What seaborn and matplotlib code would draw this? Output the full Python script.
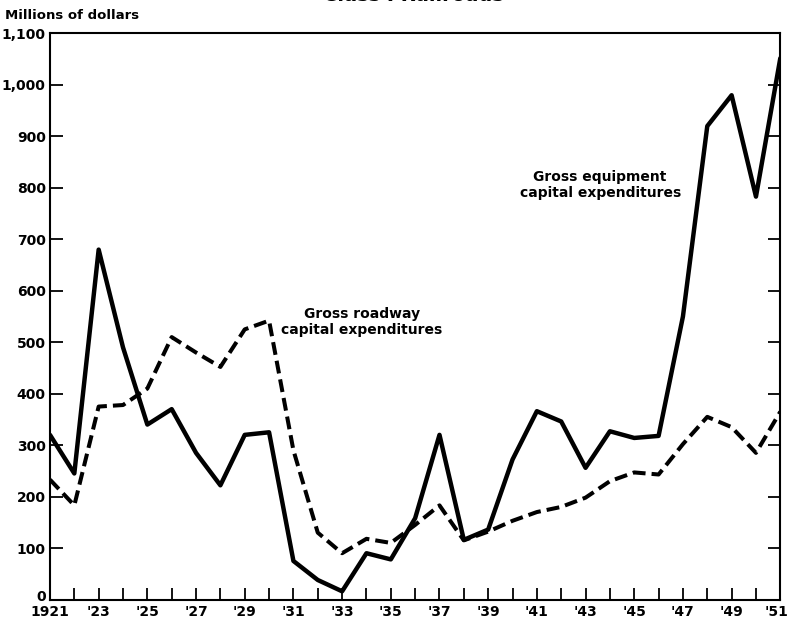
import pandas as pd
import seaborn as sns
import matplotlib.pyplot as plt
import matplotlib.transforms as mtransforms

# values (millions of dollars)
years = list(range(1921, 1952))
equipment = [320, 245, 680, 490, 340, 370, 285, 222, 320, 325,
             75, 38, 16, 90, 78, 158, 320, 116, 136, 272,
             366, 346, 256, 327, 314, 318, 550, 920, 980, 783, 1052]
roadway = [233, 183, 375, 378, 410, 510, 480, 452, 525, 542,
           290, 130, 90, 118, 110, 145, 183, 115, 132, 153,
           170, 180, 198, 230, 247, 243, 302, 355, 335, 285, 365]

y_ticks = list(range(0, 1101, 100))
y_labels = [f"{v:,}" for v in y_ticks]
x_ticks = list(range(1921, 1952, 2))
x_labels = ["1921"] + [f"'{str(y)[2:]}" for y in x_ticks[1:]]

df = pd.DataFrame({'year': years, 'equipment': equipment, 'roadway': roadway})

sns.set_style('ticks')
plt.rcParams['font.family'] = ['DejaVu Sans']
plt.rcParams['text.color'] = 'black'
plt.rcParams['xtick.color'] = 'black'
plt.rcParams['ytick.color'] = 'black'

fig = plt.figure(figsize=(7.87, 6.20), dpi=100)
ax = fig.add_axes([0.0635, 0.033, 0.928, 0.913])

sns.lineplot(data=df, x='year', y='equipment', color='black', linewidth=3.2, ax=ax)
sns.lineplot(data=df, x='year', y='roadway', color='black', linewidth=2.9,
             linestyle=(0, (3.2, 1.5)), ax=ax)

ax.set_xlim(1921, 1951)
ax.set_ylim(0, 1100)
ax.set_xticks(years)
ax.set_xticklabels([x_labels[x_ticks.index(y)] if y in x_ticks else '' for y in years],
                   fontsize=10, fontweight='semibold')
ax.set_yticks(y_ticks)
ax.set_yticklabels(y_labels, fontsize=10, fontweight='semibold')
ax.tick_params(axis='x', direction='in', length=9, width=1.3, pad=4, top=False)
ax.tick_params(axis='y', direction='in', length=9, width=1.3, pad=3, right=True)
ax.set_xlabel('')
ax.set_ylabel('')
for s in ax.spines.values():
    s.set_visible(True)
    s.set_linewidth(1.5)
    s.set_color('black')

# nudge the "0" up a little so it clears "1921", as in the original
zero = ax.get_yticklabels()[0]
zero.set_transform(zero.get_transform() + mtransforms.ScaledTranslation(0, 3 / 72, fig.dpi_scale_trans))
# keep "'51" inside the frame
last = ax.get_xticklabels()[-1]
last.set_transform(last.get_transform() + mtransforms.ScaledTranslation(-3 / 72, 0, fig.dpi_scale_trans))

ax.text(1943.6, 806, 'Gross equipment\ncapital expenditures', ha='center', va='center',
        fontsize=10, fontweight='semibold', linespacing=1.2)
ax.text(1933.8, 540, 'Gross roadway\ncapital expenditures', ha='center', va='center',
        fontsize=10, fontweight='semibold', linespacing=1.2)

fig.text(0.006, 0.975, 'Millions of dollars', ha='left', va='center',
         fontsize=9.5, fontweight='semibold')
fig.text(0.525, 1.008, 'Class I Railroads', ha='center', va='center',
         fontsize=14, fontweight='semibold')

fig.savefig('out.png', dpi=100)
